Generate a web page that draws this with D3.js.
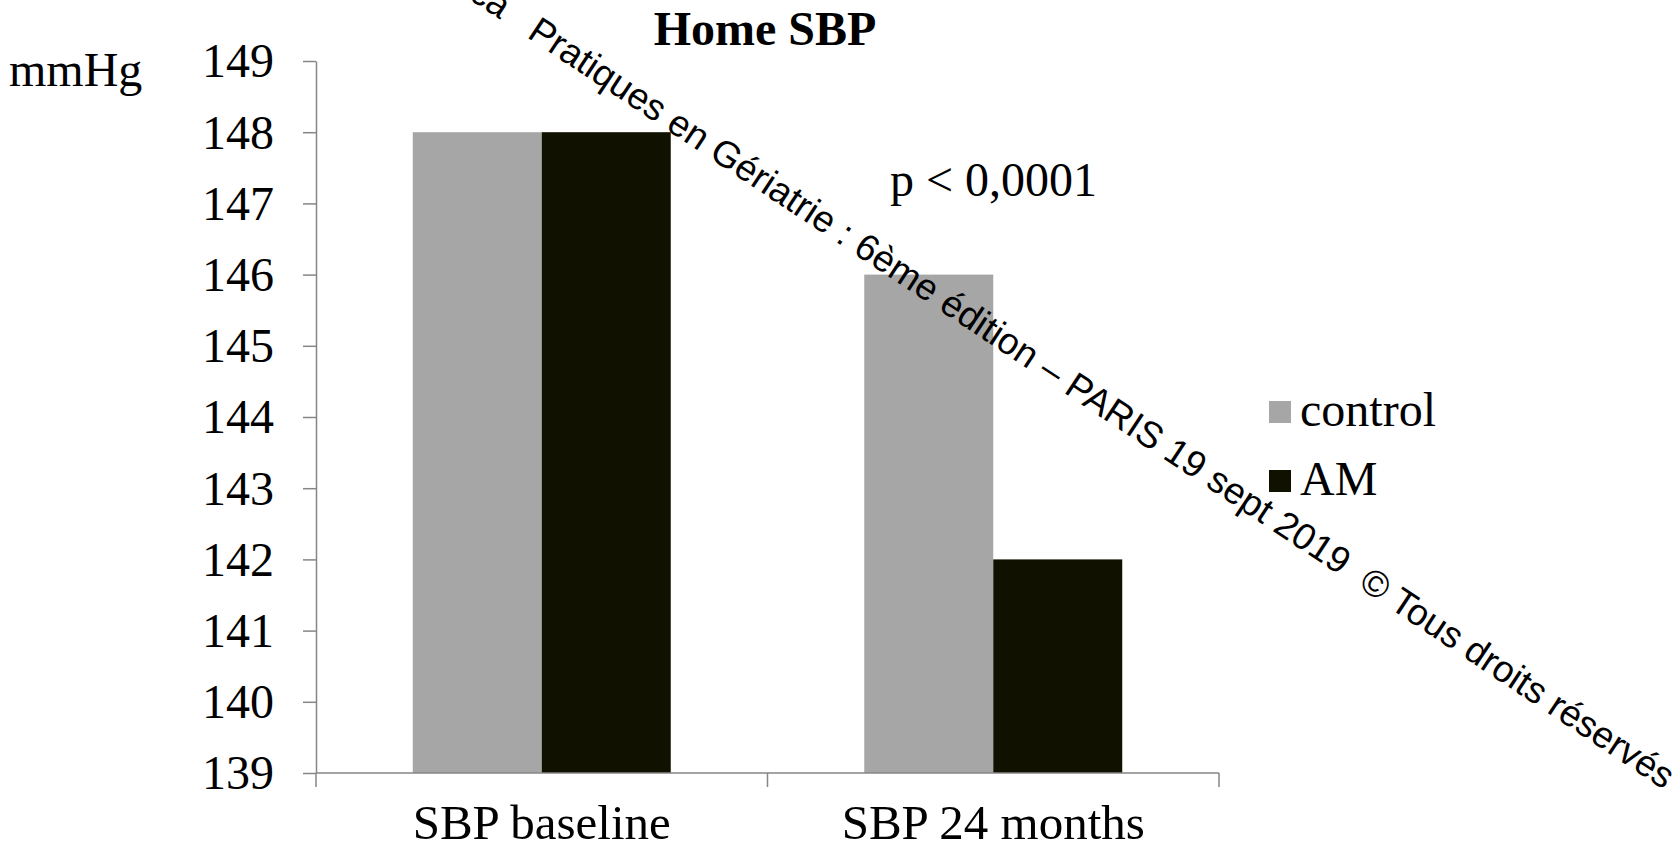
<!DOCTYPE html>
<html><head><meta charset="utf-8">
<script src="https://cdn.jsdelivr.net/npm/d3@7"></script>
<style>html,body{margin:0;padding:0;background:#fff;} svg{display:block;}</style>
</head><body>
<script>
const categories = ["SBP baseline", "SBP 24 months"];
const series = ["control", "AM"];
const controlValues = [148, 146];
const amValues = [148, 142];
const yTicks = [139, 140, 141, 142, 143, 144, 145, 146, 147, 148, 149];
const colors = {control: "#a6a6a6", AM: "#111100"};
const titleText = "Home SBP";
const unitText = "mmHg";
const pText = "p < 0,0001";
const watermark = "ca   Pratiques en Gériatrie : 6ème édition – PARIS 19 sept 2019  © Tous droits réservés";

(function () {
const W = 1677, H = 851;
const svg = d3.select("body").append("svg").attr("width", W).attr("height", H);
svg.append("rect").attr("width", W).attr("height", H).attr("fill", "#fff");

const mLeft = 316, mRight = 1219, mTop = 61, mBottom = 773;
const serif = "'Liberation Serif','Times New Roman',serif";

const y = d3.scaleLinear().domain([139, 149]).range([mBottom, mTop]);
const x0 = d3.scaleBand().domain(categories).range([mLeft, mRight]).padding(0);
const x1 = d3.scaleBand().domain(series).range([0, x0.bandwidth()]).paddingInner(0).paddingOuter(0.75);

const data = categories.map((c, i) => ({cat: c, vals: [{s: "control", v: controlValues[i]}, {s: "AM", v: amValues[i]}]}));

const g = svg.append("g");
g.selectAll("g.cat").data(data).join("g").attr("class", "cat")
  .attr("transform", d => `translate(${x0(d.cat)},0)`)
  .selectAll("rect").data(d => d.vals).join("rect")
  .attr("x", d => x1(d.s)).attr("width", x1.bandwidth())
  .attr("y", d => y(d.v)).attr("height", d => y(139) - y(d.v))
  .attr("fill", d => colors[d.s]);

const yAxis = svg.append("g").attr("transform", `translate(${mLeft},0)`)
  .call(d3.axisLeft(y).tickValues(yTicks).tickSize(13).tickSizeOuter(0).tickPadding(29).tickFormat(d3.format("d")));
yAxis.select(".domain").attr("stroke", "#868686").attr("stroke-width", 1.5);
yAxis.selectAll(".tick line").attr("stroke", "#868686").attr("stroke-width", 1.5);
yAxis.selectAll(".tick text").attr("font-family", serif).attr("font-size", 48).attr("fill", "#000").attr("dy", "0.33em");

const xAxis = svg.append("g").attr("transform", `translate(0,${mBottom})`);
xAxis.append("line").attr("x1", mLeft).attr("x2", mRight).attr("stroke", "#868686").attr("stroke-width", 1.5);
const bounds = categories.map(c => x0(c)).concat([x0(categories[categories.length - 1]) + x0.bandwidth()]);
xAxis.selectAll("line.tk").data(bounds).join("line").attr("class", "tk")
  .attr("x1", d => d).attr("x2", d => d).attr("y1", 0).attr("y2", 14)
  .attr("stroke", "#868686").attr("stroke-width", 1.5);
xAxis.selectAll("text").data(categories).join("text")
  .attr("x", d => x0(d) + x0.bandwidth() / 2).attr("y", 66)
  .attr("text-anchor", "middle").attr("font-family", serif).attr("font-size", 49).text(d => d);

svg.append("text").attr("x", 765).attr("y", 45).attr("text-anchor", "middle")
  .attr("font-family", serif).attr("font-weight", "bold").attr("font-size", 48).text(titleText);
svg.append("text").attr("x", 9).attr("y", 86).attr("font-family", serif).attr("font-size", 48).text(unitText);
svg.append("text").attr("x", 890).attr("y", 196).attr("font-family", serif).attr("font-size", 48).text(pText);

const lg = svg.append("g").selectAll("g").data(series).join("g")
  .attr("transform", (d, i) => `translate(1269,${401 + i * 69})`);
lg.append("rect").attr("width", 22).attr("height", 22).attr("fill", d => colors[d]);
lg.append("text").attr("x", 31).attr("y", 25).attr("font-family", serif).attr("font-size", 48).text(d => d);

svg.append("text").attr("transform", "translate(1664,790) rotate(33.5)")
  .attr("text-anchor", "end").attr("font-family", "'Liberation Sans',Arial,sans-serif")
  .style("white-space", "pre")
  .attr("font-size", 37).attr("fill", "#000").text(watermark);
})();
</script>
</body></html>
